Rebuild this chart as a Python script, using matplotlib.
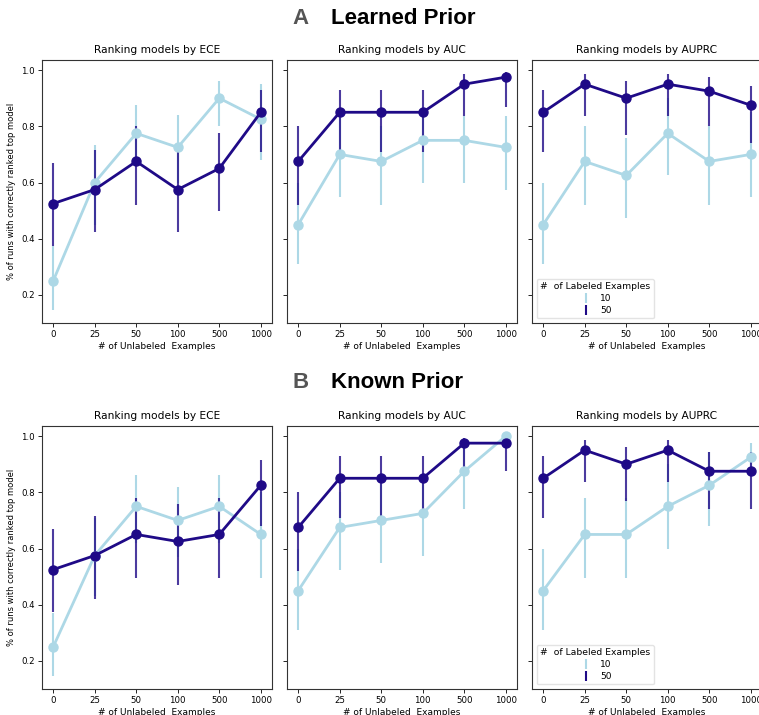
import numpy as np
import matplotlib
matplotlib.use("Agg")
import matplotlib.pyplot as plt
from matplotlib.lines import Line2D

# x categories (number of unlabeled examples)
unlabeled = ["0", "25", "50", "100", "500", "1000"]
metrics = ["ECE", "AUC", "AUPRC"]

# --- A: Learned prior --- (mean, lower CI, upper CI) per labeled-set size
learned_10_mean = {"ECE": [0.25, 0.60, 0.775, 0.725, 0.90, 0.825],
                   "AUC": [0.45, 0.70, 0.675, 0.75, 0.75, 0.725],
                   "AUPRC": [0.45, 0.675, 0.625, 0.775, 0.675, 0.70]}
learned_10_lo = {"ECE": [0.145, 0.45, 0.66, 0.60, 0.80, 0.68],
                 "AUC": [0.31, 0.55, 0.52, 0.60, 0.60, 0.575],
                 "AUPRC": [0.31, 0.52, 0.475, 0.625, 0.52, 0.55]}
learned_10_hi = {"ECE": [0.375, 0.735, 0.875, 0.84, 0.96, 0.95],
                 "AUC": [0.60, 0.83, 0.80, 0.85, 0.835, 0.835],
                 "AUPRC": [0.60, 0.80, 0.76, 0.90, 0.80, 0.85]}
learned_50_mean = {"ECE": [0.525, 0.575, 0.675, 0.575, 0.65, 0.85],
                   "AUC": [0.675, 0.85, 0.85, 0.85, 0.95, 0.975],
                   "AUPRC": [0.85, 0.95, 0.90, 0.95, 0.925, 0.875]}
learned_50_lo = {"ECE": [0.375, 0.425, 0.52, 0.425, 0.50, 0.71],
                 "AUC": [0.52, 0.71, 0.71, 0.71, 0.835, 0.87],
                 "AUPRC": [0.71, 0.835, 0.77, 0.835, 0.80, 0.74]}
learned_50_hi = {"ECE": [0.67, 0.715, 0.80, 0.715, 0.775, 0.93],
                 "AUC": [0.80, 0.93, 0.93, 0.93, 0.985, 0.995],
                 "AUPRC": [0.93, 0.985, 0.96, 0.985, 0.975, 0.945]}

# --- B: Known prior ---
known_10_mean = {"ECE": [0.25, 0.575, 0.75, 0.70, 0.75, 0.65],
                 "AUC": [0.45, 0.675, 0.70, 0.725, 0.875, 1.0],
                 "AUPRC": [0.45, 0.65, 0.65, 0.75, 0.825, 0.925]}
known_10_lo = {"ECE": [0.145, 0.43, 0.62, 0.57, 0.62, 0.495],
               "AUC": [0.31, 0.525, 0.55, 0.575, 0.74, 1.0],
               "AUPRC": [0.31, 0.495, 0.495, 0.60, 0.68, 0.87]}
known_10_hi = {"ECE": [0.37, 0.71, 0.86, 0.82, 0.86, 0.80],
               "AUC": [0.60, 0.80, 0.83, 0.86, 0.97, 1.0],
               "AUPRC": [0.60, 0.78, 0.78, 0.90, 0.945, 0.975]}
known_50_mean = {"ECE": [0.525, 0.575, 0.65, 0.625, 0.65, 0.825],
                 "AUC": [0.675, 0.85, 0.85, 0.85, 0.975, 0.975],
                 "AUPRC": [0.85, 0.95, 0.90, 0.95, 0.875, 0.875]}
known_50_lo = {"ECE": [0.375, 0.42, 0.495, 0.47, 0.495, 0.68],
               "AUC": [0.52, 0.71, 0.71, 0.71, 0.875, 0.875],
               "AUPRC": [0.71, 0.835, 0.77, 0.835, 0.74, 0.74]}
known_50_hi = {"ECE": [0.67, 0.715, 0.78, 0.76, 0.78, 0.915],
               "AUC": [0.80, 0.93, 0.93, 0.93, 0.995, 0.995],
               "AUPRC": [0.93, 0.985, 0.96, 0.985, 0.945, 0.945]}

C10 = "#add8e6"
C50 = "#1f0a87"

fig = plt.figure(figsize=(7.59, 7.15), dpi=100)
W, H = 759.0, 715.0


def px_axes(left, top, width, height):
    return fig.add_axes([left / W, 1 - (top + height) / H, width / W, height / H])


def draw_points(ax, mean, lo, hi, color, err_alpha):
    x = np.arange(len(mean))
    ax.vlines(x, lo, hi, color=color, lw=1.5, alpha=err_alpha, zorder=2)
    ax.plot(x, mean, color=color, lw=2.0, marker="o", ms=6.5, zorder=3)


rows = [
    (60, "A", "Learned Prior", 18,
     (learned_10_mean, learned_10_lo, learned_10_hi),
     (learned_50_mean, learned_50_lo, learned_50_hi)),
    (426, "B", "Known Prior", 383,
     (known_10_mean, known_10_lo, known_10_hi),
     (known_50_mean, known_50_lo, known_50_hi)),
]
lefts = [42, 287, 532]

for top, letter, name, ty, s10, s50 in rows:
    fig.text(292 / W, 1 - ty / H, letter, fontsize=16, fontweight="bold",
             color="#555555", family="Liberation Sans", va="center", ha="left")
    fig.text(331 / W, 1 - ty / H, name, fontsize=16, fontweight="bold",
             color="black", family="Liberation Sans", va="center", ha="left")
    for j, m in enumerate(metrics):
        ax = px_axes(lefts[j], top, 230, 263)
        draw_points(ax, s10[0][m], s10[1][m], s10[2][m], C10, 1.0)
        draw_points(ax, s50[0][m], s50[1][m], s50[2][m], C50, 0.8)
        ax.set_xlim(-0.27, 5.27)
        ax.set_ylim(0.1, 1.036)
        ax.set_xticks(range(len(unlabeled)))
        ax.set_xticklabels(unlabeled)
        ax.set_yticks([0.2, 0.4, 0.6, 0.8, 1.0])
        ax.tick_params(labelsize=6.2, length=3, width=0.6, pad=2)
        if j > 0:
            ax.set_yticklabels([])
        else:
            ax.set_ylabel("% of runs with correctly ranked top model",
                          fontsize=6, labelpad=4)
        ax.set_xlabel("# of Unlabeled  Examples", fontsize=6.5, labelpad=2)
        ax.set_title(f"Ranking models by {m}", fontsize=7.7, pad=5)
        for sp in ax.spines.values():
            sp.set_color("#333333")
            sp.set_linewidth(0.8)
        if m == "AUPRC":
            handles = [Line2D([], [], color=C10, marker="|", ls="none", ms=7, mew=1.5),
                       Line2D([], [], color=C50, marker="|", ls="none", ms=7, mew=1.5)]
            ax.legend(handles, ["10", "50"], title="#  of Labeled Examples",
                      loc="lower left", fontsize=6.5, title_fontsize=6.7,
                      handlelength=1.5, borderpad=0.4, labelspacing=0.3,
                      framealpha=0.8, edgecolor="#dddddd")

fig.savefig("out.png", dpi=100)
